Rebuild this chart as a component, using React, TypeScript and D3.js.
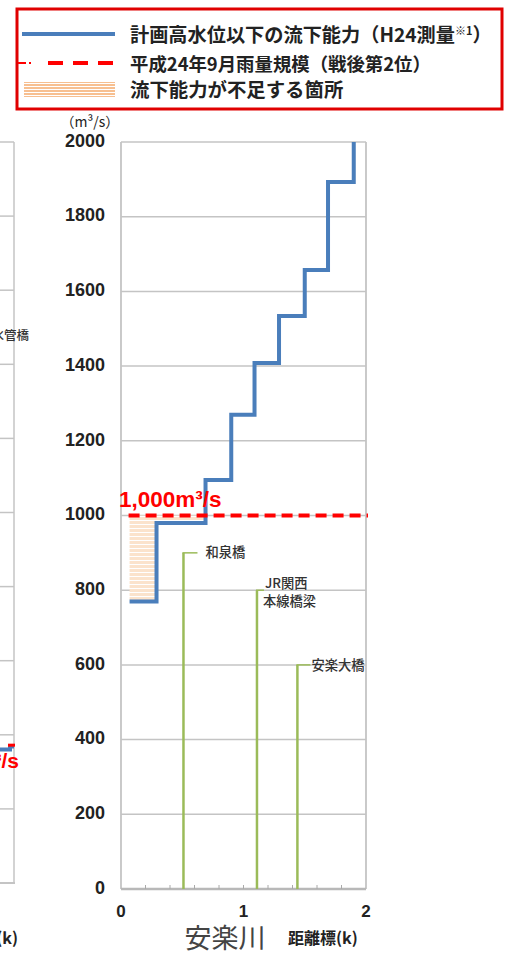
import React from "react";
import * as d3 from "d3";

// ---- data ----
const yTicks = [0, 200, 400, 600, 800, 1000, 1200, 1400, 1600, 1800, 2000];
const xTicks = [0, 1, 2];
const minorTicks = [0.2, 0.4, 0.6, 0.8, 1.0, 1.2, 1.4, 1.6, 1.8];
const capKm = [0.07, 0.29, 0.69, 0.9, 1.09, 1.29, 1.5, 1.69, 1.9];
const capVal = [770, 980, 1095, 1270, 1408, 1534, 1657, 1893, 2000];
const planFlow = 1000;
const planLabel = "1,000m³/s";
const bridgeNames = [["和泉橋"], ["JR関西", "本線橋梁"], ["安楽大橋"]];
const bridgeKm = [0.51, 1.11, 1.44];
const bridgeVal = [900, 800, 600];
const legendLabels = [
  "計画高水位以下の流下能力（H24測量",
  "平成24年9月雨量規模（戦後第2位）",
  "流下能力が不足する箇所",
];
const riverName = "安楽川";
const xTitle = "距離標(k)";
const unitLabel = "（m³/s）";
// left neighbouring panel (cut off)
const leftYTicks = [0, 200, 400, 600, 800, 1000, 1200, 1400, 1600, 1800, 2000];
const leftCap = 360;
const leftPlan = 372;

const BLUE = "#4a7ebb";
const RED = "#ff0000";
const GREEN = "#9bbb59";
const GRID = "#c4c4c4";
const NUM = "'Liberation Sans', Arial, sans-serif";
const JP = "'Noto Sans CJK JP', sans-serif";

export default function App() {
  const x = d3.scaleLinear().domain([0, 2]).range([121, 366]);
  const y = d3.scaleLinear().domain([0, 2000]).range([889, 142]);
  const yl = d3.scaleLinear().domain([0, 2000]).range([883, 142]);

  const pts: [number, number][] = capKm.map((k, i) => [k, capVal[i]]);
  const line = d3
    .line<[number, number]>()
    .x((d) => x(d[0]))
    .y((d) => y(d[1]))
    .curve(d3.curveStepAfter);

  // shortage polygon: segments where capacity < plan
  const shortPts: [number, number][] = [];
  for (let i = 0; i < pts.length; i++) {
    if (pts[i][1] < planFlow) shortPts.push(pts[i]);
    else {
      shortPts.push([pts[i][0], shortPts[shortPts.length - 1][1]]);
      break;
    }
  }
  const area = d3
    .area<[number, number]>()
    .x((d) => x(d[0]))
    .y0(y(planFlow))
    .y1((d) => y(d[1]))
    .curve(d3.curveStepAfter);

  return (
    <svg
      width={510}
      height={957}
      style={{ position: "absolute", left: 0, top: 0, background: "#fff" }}
    >
      <defs>
        <pattern id="hatch" width={4} height={4} patternUnits="userSpaceOnUse">
          <rect width={4} height={4} fill="#fbe3cc" />
          <line x1={0} x2={4} y1={0.5} y2={0.5} stroke="#ffffff" strokeWidth={1} />
        </pattern>
        <pattern id="hatchL" width={4} height={3} patternUnits="userSpaceOnUse">
          <rect width={4} height={3} fill="#ffffff" />
          <line x1={0} x2={4} y1={1} y2={1} stroke="#f4a460" strokeWidth={1.4} />
        </pattern>
      </defs>

      {/* left cut-off panel */}
      {leftYTicks.slice(1).map((t) => (
        <line key={"lg" + t} x1={0} x2={14} y1={yl(t)} y2={yl(t)} stroke={GRID} strokeWidth={1.5} />
      ))}
      <line x1={0} x2={15} y1={yl(0)} y2={yl(0)} stroke={GRID} strokeWidth={2} />
      <line x1={14} x2={14} y1={yl(2000)} y2={yl(0)} stroke={GRID} strokeWidth={1.5} />
      <path
        d={`M0,${yl(leftCap)}H10V${yl(leftCap) - 3}H14`}
        fill="none"
        stroke={BLUE}
        strokeWidth={4}
      />
      <line x1={8} x2={15} y1={yl(leftPlan)} y2={yl(leftPlan)} stroke={RED} strokeWidth={3} />
      <text x={19} y={768} textAnchor="end" fontFamily={NUM} fontWeight="bold" fontSize={21} fill={RED}>
        360m³/s
      </text>
      <text x={29} y={337} textAnchor="end" dominantBaseline="middle" fontFamily={JP} fontWeight={500} fontSize={12.5} fill="#333">
        水管橋
      </text>
      <text x={18} y={944} textAnchor="end" fontFamily={JP} fontWeight="bold" fontSize={16} fill="#222">
        {xTitle}
      </text>

      {/* main grid */}
      {yTicks.slice(1).map((t) => (
        <line key={"g" + t} x1={x(0)} x2={x(2)} y1={y(t)} y2={y(t)} stroke={GRID} strokeWidth={1.5} />
      ))}
      <line x1={x(0)} x2={x(0)} y1={y(2000)} y2={y(0)} stroke={GRID} strokeWidth={1.8} />
      <line x1={x(2)} x2={x(2)} y1={y(2000)} y2={y(0)} stroke={GRID} strokeWidth={1.8} />
      <line x1={x(0)} x2={x(2)} y1={y(0)} y2={y(0)} stroke="#b8b8b8" strokeWidth={2.5} />
      {minorTicks.map((t) => (
        <line key={"m" + t} x1={x(t)} x2={x(t)} y1={y(0)} y2={y(0) - 4} stroke="#aaa" strokeWidth={1} />
      ))}

      {/* y tick labels */}
      {yTicks.map((t) => (
        <text
          key={"yt" + t}
          x={105}
          y={y(t)}
          textAnchor="end"
          dominantBaseline="middle"
          fontFamily={NUM}
          fontWeight="bold"
          fontSize={18}
          fill="#222"
        >
          {t}
        </text>
      ))}
      <text x={90} y={127} textAnchor="middle" fontFamily={JP} fontSize={14} fill="#222">
        {unitLabel}
      </text>

      {/* x tick labels */}
      {xTicks.map((t) => (
        <text
          key={"xt" + t}
          x={x(t)}
          y={917}
          textAnchor="middle"
          fontFamily={NUM}
          fontWeight="bold"
          fontSize={17}
          fill="#222"
        >
          {t}
        </text>
      ))}
      <text x={225} y={948} textAnchor="middle" fontFamily={JP} fontWeight={400} fontSize={27} fill="#444">
        {riverName}
      </text>
      <text x={288} y={944} fontFamily={JP} fontWeight="bold" fontSize={16} fill="#222">
        {xTitle}
      </text>

      {/* shortage area */}
      <path d={area(shortPts) || ""} fill="url(#hatch)" />

      {/* bridges */}
      {bridgeKm.map((k, i) => {
        const bx = x(k);
        const by = y(bridgeVal[i]);
        const names = bridgeNames[i];
        const single = names.length === 1;
        const tick = single ? (i === 0 ? 14 : 13) : 7;
        return (
          <g key={"b" + i}>
            <line x1={bx} x2={bx} y1={y(0)} y2={by} stroke={GREEN} strokeWidth={2.5} />
            <line x1={bx - 1} x2={bx + tick} y1={by} y2={by} stroke={GREEN} strokeWidth={1.5} />
            {single ? (
              <text x={bx + (i === 0 ? 22 : 14)} y={by + 1} dominantBaseline="middle" fontFamily={JP} fontWeight={500} fontSize={13.3} fill="#333">
                {names[0]}
              </text>
            ) : (
              <>
                <text x={bx + 8} y={by - 6} dominantBaseline="middle" fontFamily={JP} fontWeight={500} fontSize={13.3} fill="#333">
                  {names[0]}
                </text>
                <text x={bx + 6} y={by + 12} dominantBaseline="middle" fontFamily={JP} fontWeight={500} fontSize={13.3} fill="#333">
                  {names[1]}
                </text>
              </>
            )}
          </g>
        );
      })}

      {/* capacity step line */}
      <path d={line(pts) || ""} fill="none" stroke={BLUE} strokeWidth={4} />

      {/* plan flow */}
      <line
        x1={x(capKm[0]) - 1}
        x2={x(2) + 2}
        y1={y(planFlow)}
        y2={y(planFlow)}
        stroke={RED}
        strokeWidth={4}
        strokeDasharray="11 6"
      />
      <text x={119} y={507} fontFamily={NUM} fontWeight="bold" fontSize={22.5} fill={RED}>
        {planLabel}
      </text>

      {/* legend */}
      <rect x={17} y={9} width={485} height={100} fill="#fff" stroke="#e00000" strokeWidth={3} />
      <line x1={22} x2={115} y1={34} y2={34} stroke={BLUE} strokeWidth={4} />
      <text x={130} y={42} fontFamily={JP} fontWeight="bold" fontSize={19.2} fill="#222">
        {legendLabels[0]}
        <tspan fontSize={11} dy={-7}>※1</tspan>
        <tspan dy={7}>）</tspan>
      </text>
      <line x1={18} x2={26} y1={63} y2={63} stroke={RED} strokeWidth={2} />
      <line x1={29} x2={31} y1={63} y2={63} stroke={RED} strokeWidth={2} />
      <line x1={48} x2={114} y1={63} y2={63} stroke={RED} strokeWidth={4} strokeDasharray="15 10" />
      <text x={130} y={71} fontFamily={JP} fontWeight="bold" fontSize={18.4} fill="#222">
        {legendLabels[1]}
      </text>
      <rect x={24} y={82} width={91} height={15} fill="url(#hatchL)" />
      <text x={130} y={97} fontFamily={JP} fontWeight="bold" fontSize={19.4} fill="#222">
        {legendLabels[2]}
      </text>
    </svg>
  );
}
